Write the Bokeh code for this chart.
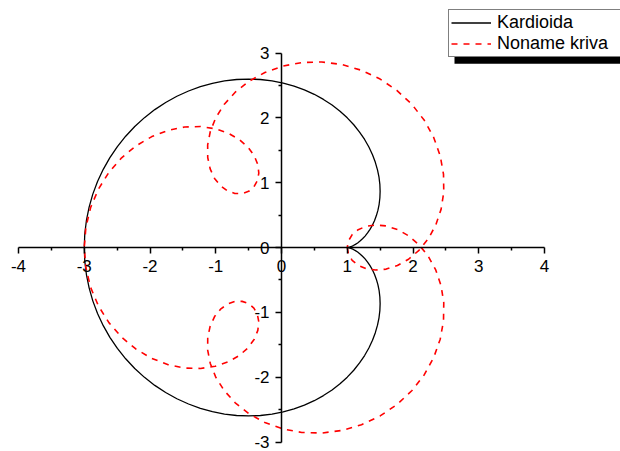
from bokeh.plotting import figure
from bokeh.models import (LinearAxis, Range1d, FixedTicker, Legend, LegendItem,
                          BoxAnnotation)
from bokeh.embed import file_html
from bokeh.resources import INLINE

# ---- curve samples: parameter t = 0..180 deg in 3 deg steps ----
# Cardioid (Kardioida); the second half of the turn mirrors this one in the x axis
kard_x = [1.000, 1.003, 1.011, 1.024, 1.043, 1.066, 1.093, 1.124, 1.158, 1.194,
          1.232, 1.271, 1.309, 1.346, 1.382, 1.414, 1.443, 1.467, 1.485, 1.496,
          1.500, 1.496, 1.483, 1.460, 1.427, 1.384, 1.329, 1.264, 1.187, 1.099,
          1.000, 0.890, 0.769, 0.638, 0.498, 0.348, 0.191, 0.026, -0.144, -0.320,
          -0.500, -0.683, -0.867, -1.051, -1.234, -1.414, -1.591, -1.762, -1.927, -2.084,
          -2.232, -2.370, -2.496, -2.610, -2.711, -2.798, -2.870, -2.926, -2.967, -2.992,
          -3.000]
kard_y = [0.000, 0.000, 0.001, 0.004, 0.009, 0.018, 0.030, 0.048, 0.070, 0.099,
          0.134, 0.176, 0.225, 0.280, 0.344, 0.414, 0.492, 0.576, 0.667, 0.764,
          0.866, 0.973, 1.084, 1.198, 1.314, 1.432, 1.550, 1.666, 1.781, 1.893,
          2.000, 2.102, 2.197, 2.284, 2.363, 2.432, 2.490, 2.536, 2.570, 2.591,
          2.598, 2.591, 2.569, 2.532, 2.481, 2.414, 2.333, 2.237, 2.127, 2.003,
          1.866, 1.717, 1.557, 1.386, 1.206, 1.018, 0.823, 0.622, 0.417, 0.209,
          0.000]

# Looped curve (Noname kriva), same parameter steps
kriva_x = [1.000, 1.019, 1.075, 1.166, 1.287, 1.432, 1.593, 1.763, 1.932, 2.091,
           2.232, 2.346, 2.427, 2.468, 2.464, 2.414, 2.316, 2.172, 1.985, 1.758,
           1.500, 1.217, 0.918, 0.612, 0.309, 0.018, -0.253, -0.496, -0.704, -0.873,
           -1.000, -1.083, -1.123, -1.122, -1.085, -1.018, -0.927, -0.821, -0.709, -0.599,
           -0.500, -0.420, -0.367, -0.345, -0.360, -0.414, -0.508, -0.641, -0.809, -1.008,
           -1.232, -1.473, -1.723, -1.972, -2.211, -2.432, -2.625, -2.784, -2.903, -2.975,
           -3.000]
kriva_y = [0.000, -0.103, -0.198, -0.275, -0.327, -0.348, -0.333, -0.278, -0.181, -0.043,
           0.134, 0.346, 0.588, 0.852, 1.130, 1.414, 1.694, 1.961, 2.206, 2.420,
           2.598, 2.733, 2.822, 2.862, 2.853, 2.798, 2.699, 2.563, 2.396, 2.205,
           2.000, 1.789, 1.582, 1.388, 1.213, 1.066, 0.951, 0.873, 0.833, 0.831,
           0.866, 0.934, 1.030, 1.148, 1.278, 1.414, 1.546, 1.665, 1.763, 1.832,
           1.866, 1.859, 1.808, 1.711, 1.569, 1.384, 1.159, 0.901, 0.616, 0.313,
           0.000]

series_names = ["Kardioida", "Noname kriva"]

x_ticks = [-4, -3, -2, -1, 0, 1, 2, 3, 4]
x_tick_labels = ["-4", "-3", "-2", "-1", "0", "1", "2", "3", "4"]
x_minor_ticks = [-3.5, -2.5, -1.5, -0.5, 0.5, 1.5, 2.5, 3.5]
y_ticks = [-3, -2, -1, 0, 1, 2, 3]
y_tick_labels = ["-3", "-2", "-1", "0", "1", "2", "3"]
y_minor_ticks = [-2.5, -1.5, -0.5, 0.5, 1.5, 2.5]


def closed(xs, ys):
    """Complete the full turn by reflecting the half turn in the x axis."""
    return xs + xs[-2::-1], ys + [-v for v in ys[-2::-1]]


# ---- layout: the frame fills the canvas, axes cross at the origin ----
W, H = 620, 451
X_LO, X_HI, Y_LO, Y_HI = -4, 4, -3, 3
X_LO_PX, X_HI_PX = 18.0, 544.0      # canvas px of x = -4 and x = 4
Y_HI_PX, Y_LO_PX = 52.5, 441.5      # canvas px of y = 3 and y = -3
sx = (X_HI_PX - X_LO_PX) / (X_HI - X_LO)
sy = (Y_LO_PX - Y_HI_PX) / (Y_HI - Y_LO)
x_start = X_LO - X_LO_PX / sx
x_end = X_HI + (W - X_HI_PX) / sx
y_end = Y_HI + Y_HI_PX / sy
y_start = Y_LO - (H - Y_LO_PX) / sy


def px_x(px):
    return x_start + px / sx


def px_y(py):
    return y_end - py / sy


FONT = "Liberation Sans"

p = figure(width=W, height=H, x_range=Range1d(x_start, x_end),
           y_range=Range1d(y_start, y_end), x_axis_type=None, y_axis_type=None,
           toolbar_location=None, output_backend="svg", min_border=0, title=None)
p.outline_line_color = None
p.background_fill_color = "white"
p.border_fill_color = "white"


def style_axis(ax):
    ax.axis_line_color = "black"
    ax.axis_line_width = 1.5
    ax.major_tick_line_color = "black"
    ax.major_tick_line_width = 1.5
    ax.minor_tick_line_color = "black"
    ax.minor_tick_line_width = 1.5
    ax.major_tick_in = 0
    ax.major_tick_out = 6
    ax.minor_tick_in = 0
    ax.minor_tick_out = 3
    ax.major_label_text_font = FONT
    ax.major_label_text_font_size = "17px"
    ax.major_label_text_color = "black"
    ax.major_label_standoff = 6


xaxis = LinearAxis(fixed_location=0, bounds=(X_LO, X_HI),
                   ticker=FixedTicker(ticks=x_ticks, minor_ticks=x_minor_ticks),
                   major_label_overrides={float(t): s for t, s in zip(x_ticks, x_tick_labels)})
yaxis = LinearAxis(fixed_location=0, bounds=(Y_LO, Y_HI),
                   ticker=FixedTicker(ticks=y_ticks, minor_ticks=y_minor_ticks),
                   major_label_overrides={float(t): s for t, s in zip(y_ticks, y_tick_labels)})
style_axis(xaxis)
style_axis(yaxis)
p.add_layout(xaxis, "below")
p.add_layout(yaxis, "left")

kx, ky = closed(kard_x, kard_y)
nx, ny = closed(kriva_x, kriva_y)
r_kard = p.line(kx, ky, line_color="black", line_width=1.3)
r_kriva = p.line(nx, ny, line_color="#ff0000", line_width=1.6, line_dash="6 6")

# legend box with a drop shadow below it
LEG_LEFT, LEG_TOP, LEG_BOTTOM = 448.0, 10.7, 57.3
SHADOW = 6.0
shadow = BoxAnnotation(left=px_x(LEG_LEFT + SHADOW), right=px_x(W + 40),
                       top=px_y(LEG_TOP + SHADOW), bottom=px_y(LEG_BOTTOM + SHADOW),
                       fill_color="black", fill_alpha=1.0, line_color=None)
p.add_layout(shadow)

legend = Legend(items=[LegendItem(label=series_names[0], renderers=[r_kard]),
                       LegendItem(label=series_names[1], renderers=[r_kriva])],
                location=(LEG_LEFT, H - LEG_BOTTOM))
legend.border_line_color = "black"
legend.border_line_width = 1
legend.background_fill_color = "white"
legend.background_fill_alpha = 1.0
legend.padding = 2
legend.spacing = 0
legend.margin = 0
legend.label_standoff = 6
legend.glyph_width = 40
legend.glyph_height = 19
legend.label_height = 19
legend.label_width = 130
legend.label_text_font = FONT
legend.label_text_font_size = "18px"
legend.label_text_color = "black"
p.add_layout(legend, "center")

open("out.html", "w").write(file_html(p, INLINE))
